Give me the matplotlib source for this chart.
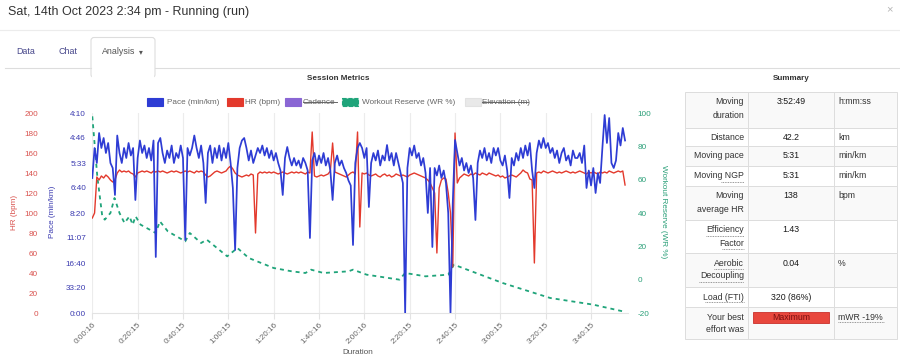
import numpy as np
import matplotlib.pyplot as plt
from matplotlib.patches import Rectangle, FancyBboxPatch

plt.rcParams['font.family'] = ['Liberation Sans', 'DejaVu Sans']
plt.rcParams['axes.unicode_minus'] = False

#-- one sample per minute, speed in m/s (axis is labelled as pace)
speed = [
    2.7, 3.3, 3.0, 3.6, 3.3, 3.5, 3.2, 3.4, 3.0, 2.9,
    2.36, 3.55, 3.2, 3.0, 3.3, 3.1, 3.4, 3.15, 3.3, 2.26,
    3.1, 3.45, 3.2, 3.35, 3.1, 3.3, 3.05, 3.45, 1.12, 3.4,
    3.5, 3.2, 3.0, 3.25, 3.1, 3.35, 3.0, 3.2, 3.1, 3.35,
    3.1, 1.46, 3.3, 3.15, 3.3, 3.55, 3.3, 3.1, 3.35, 3.0,
    2.2, 3.2, 3.35, 3.0, 3.3, 3.1, 3.35, 3.05, 3.3, 3.1,
    3.4, 3.0, 2.5, 1.26, 2.9, 3.3, 3.45, 3.5, 3.3, 3.05,
    3.25, 3.0, 3.15, 3.3, 3.2, 3.35, 3.15, 3.3, 3.1, 3.25,
    3.05, 3.2, 3.0, 2.85, 2.36, 3.1, 3.32, 3.1, 2.95, 3.1,
    2.95, 3.05, 2.9, 3.1, 3.0, 2.85, 1.5, 3.05, 3.2, 2.95,
    3.15, 3.0, 3.2, 2.95, 3.1, 2.85, 2.26, 3.0, 3.15, 2.95,
    3.05, 2.9, 2.8, 2.65, 2.55, 1.36, 3.0, 3.3, 3.4, 3.3,
    3.1, 3.3, 2.12, 3.0, 3.2, 3.05, 3.25, 2.95, 3.15, 3.05,
    3.36, 3.05, 3.2, 2.95, 3.2, 3.0, 2.8, 2.6, 0.0, 2.9,
    3.3, 3.15, 3.35, 3.1, 3.2, 2.95, 3.1, 2.8, 2.0, 2.9,
    1.32, 2.9, 2.75, 2.95, 2.7, 2.85, 2.6, 2.0, 0.0, 2.2,
    3.46, 3.2, 2.95, 3.1, 2.85, 3.0, 2.8, 2.95, 2.7, 1.86,
    3.0, 3.25, 3.1, 3.3, 3.05, 3.2, 3.0, 3.3, 3.15, 3.3,
    3.05, 2.95, 3.15, 2.85, 2.3, 3.1, 2.95, 3.2, 3.05, 3.3,
    3.1, 3.35, 3.15, 3.4, 2.85, 2.5, 3.2, 3.45, 3.3, 3.5,
    3.3, 3.4, 3.2, 3.3, 3.1, 3.25, 3.0, 3.2, 3.3, 3.05,
    3.15, 2.95, 3.25, 3.1, 3.1, 3.2, 3.0, 3.35, 2.5, 2.85,
    2.55, 2.9, 2.4, 2.8, 2.6, 3.3, 3.96, 3.4, 3.9, 3.0,
    2.9, 3.05, 3.6, 3.35, 3.7, 3.45,
]

heart_rate = [
    95, 100, 136, 133, 137, 135, 138, 136, 133, 131,
    133, 140, 143, 141, 142, 141, 142, 140, 139, 136,
    140, 141, 142, 141, 142, 141, 140, 142, 141, 142,
    141, 142, 141, 140, 141, 142, 141, 142, 141, 140,
    141, 142, 141, 142, 141, 140, 142, 141, 142, 141,
    138, 136, 137, 139, 141, 142, 141, 140, 141, 142,
    145, 147, 144, 140, 138, 137, 136, 137, 138, 137,
    139, 138, 80, 139, 141, 140, 141, 140, 141, 140,
    141, 140, 139, 140, 141, 140, 139, 140, 141, 140,
    141, 140, 141, 140, 139, 141, 140, 181, 137, 136,
    137, 138, 137, 138, 139, 142, 170, 141, 140, 139,
    138, 137, 136, 138, 140, 141, 139, 181, 86, 140,
    139, 140, 138, 137, 138, 139, 137, 136, 138, 139,
    137, 138, 136, 137, 139, 138, 137, 138, 137, 136,
    138, 139, 140, 139, 138, 137, 136, 135, 133, 130,
    125, 120, 60, 125, 133, 135, 134, 120, 100, 46,
    180, 130, 135, 137, 139, 138, 137, 139, 138, 140,
    139, 138, 140, 139, 138, 140, 139, 138, 137, 138,
    136, 137, 135, 136, 137, 138, 137, 136, 138, 140,
    143, 141, 140, 134, 133, 50, 140, 141, 140, 142,
    141, 140, 141, 142, 141, 140, 141, 140, 141, 142,
    141, 140, 141, 140, 141, 142, 141, 140, 139, 141,
    140, 141, 140, 139, 141, 140, 141, 140, 142, 141,
    140, 141, 142, 141, 142, 128,
]

#-- workout reserve is only sampled every few minutes
wr_minutes = [0, 2.2, 4.4, 5.5, 8, 9.8, 12, 14.2, 16.4, 17.8,
              19.1, 21.3, 28, 29.8, 33.3, 41, 43, 48, 50.5, 59.5,
              64, 69, 80, 88, 94, 96.5, 102, 113, 115, 121,
              135.5, 138, 147, 157, 159.5, 181, 202, 221, 234]
wr_values = [98, 62, 38, 36, 40, 49, 40, 34, 38, 33,
             38, 33, 28, 35, 29, 23, 28, 22, 24, 14,
             19, 13, 7, 5, 4, 6, 4, 5, 6, 3,
             0, 4, 2, 3, 9, -2, -11, -15, -19]

x_ticks = [16, 1215, 2415, 3615, 4816, 6016, 7216, 8415, 9615, 10815, 12015, 13215]
x_labels = ['0:00:16', '0:20:15', '0:40:15', '1:00:15', '1:20:16', '1:40:16',
            '2:00:16', '2:20:15', '2:40:15', '3:00:15', '3:20:15', '3:40:15']
pace_ticks = [0, 0.5, 1, 1.5, 2, 2.5, 3, 3.5, 4]
pace_labels = ['0:00', '33:20', '16:40', '11:07', '8:20', '6:40', '5:33', '4:46', '4:10']
hr_ticks = [0, 20, 40, 60, 80, 100, 120, 140, 160, 180, 200]
wr_ticks = [-20, 0, 20, 40, 60, 80, 100]

legend_names = ['Pace (min/km)', 'HR (bpm)', 'Cadence', 'Workout Reserve (WR %)', 'Elevation (m)']

summary_labels = ['Moving\nduration', 'Distance', 'Moving pace', 'Moving NGP', 'Moving\naverage HR',
                  'Efficiency\nFactor', 'Aerobic\nDecoupling', 'Load (FTI)', 'Your best\neffort was']
summary_values = ['3:52:49', '42.2', '5:31', '5:31', '138', '1.43', '0.04', '320 (86%)', 'Maximum']
summary_units = ['h:mm:ss', 'km', 'min/km', 'min/km', 'bpm', '', '%', '', 'mWR -19%']

BLUE = '#2e3cd4'
RED = '#e3392c'
GREEN = '#1fa47a'
PURPLE = '#8a66d4'
TXT = '#333333'

fig = plt.figure(figsize=(9, 3.54), dpi=100)

#-- overlay in pixel coordinates for the page around the chart
ov = fig.add_axes([0, 0, 1, 1])
ov.set_xlim(0, 900)
ov.set_ylim(354, 0)
ov.axis('off')

ov.text(8, 12, 'Sat, 14th Oct 2023 2:34 pm - Running (run)', fontsize=9.0, color=TXT, va='center')
ov.text(889, 9, '\u00d7', fontsize=8, color='#b5b5b5', ha='center', va='center')
ov.plot([0, 900], [30, 30], color='#ececec', lw=0.8)

#-- tabs
ov.plot([5, 91], [68, 68], color='#dddddd', lw=0.8)
ov.plot([155, 900], [68, 68], color='#dddddd', lw=0.8)
ov.add_patch(FancyBboxPatch((91, 37.5), 64, 40, boxstyle='round,pad=0,rounding_size=3',
                            fc='white', ec='#dddddd', lw=0.8))
ov.add_patch(Rectangle((91.6, 67), 62.8, 12, fc='white', ec='none'))
ov.text(26, 52, 'Data', fontsize=6.4, color='#45458a', ha='center', va='center')
ov.text(68, 52, 'Chat', fontsize=6.4, color='#45458a', ha='center', va='center')
ov.text(102, 52, 'Analysis', fontsize=6.4, color='#555555', va='center')
ov.text(141, 52, '\u25be', fontsize=5.5, color='#555555', ha='center', va='center',
        family=['DejaVu Sans'])

ov.text(338, 78, 'Session Metrics', fontsize=5.9, weight='bold', color=TXT, ha='center', va='center')

#-- legend
leg_boxes = [(147, BLUE, BLUE), (227, RED, RED), (285, PURPLE, PURPLE), (342, GREEN, GREEN), (465, '#e9e9e9', '#e2e2e2')]
leg_text_x = [167, 245, 303, 362, 482]
for (bx, fc, ec), tx, name in zip(leg_boxes, leg_text_x, legend_names):
    ls = '--' if name.startswith('Workout') else '-'
    ov.add_patch(Rectangle((bx, 97.5), 16, 8.5, fc=fc, ec=ec, lw=0.8, ls=ls))
    ov.text(tx, 102, name, fontsize=5.9, color='#666666', va='center')
    if name in ('Cadence', 'Elevation (m)'):
        w = 34 if name == 'Cadence' else 46
        ov.plot([tx, tx + w], [102, 102], color='#666666', lw=0.7)

#-- chart with three y axes
L, R, T, B = 92.3, 628, 113, 313
ax_wr = fig.add_axes([L / 900, 1 - B / 354, (R - L) / 900, (B - T) / 354])
ax_hr = ax_wr.twinx()
ax_pace = ax_wr.twinx()

t_sec = 16 + 60 * np.arange(len(speed))
wr_sec = 16 + 60 * np.array(wr_minutes)

ax_wr.plot(wr_sec, wr_values, color=GREEN, lw=1.3, ls=(0, (2.2, 2.2)))
ax_hr.plot(t_sec, heart_rate, color=RED, lw=1.0)
ax_pace.plot(t_sec, speed, color=BLUE, lw=1.25)

xmax = 16 + 60 * 236.3
for a in (ax_wr, ax_hr, ax_pace):
    a.set_xlim(16, xmax)
    for s in a.spines.values():
        s.set_visible(False)

ax_wr.set_ylim(-20, 100)
ax_hr.set_ylim(0, 200)
ax_pace.set_ylim(0, 4)

ax_wr.spines['bottom'].set_visible(True)
ax_wr.spines['bottom'].set_color('#e3e3e3')
ax_wr.set_xticks(x_ticks, x_labels, rotation=45, ha='right', rotation_mode='anchor')
ax_wr.tick_params(axis='x', length=4, color='#e3e3e3', pad=2, labelsize=5.9, labelcolor='#666666')
ax_wr.grid(axis='x', color='#ececec', lw=0.8)

ax_wr.yaxis.tick_right()
ax_wr.set_yticks(wr_ticks)
ax_wr.tick_params(axis='y', length=0, pad=7, labelsize=5.9, labelcolor='#2a9f78')

ax_hr.yaxis.tick_left()
ax_hr.set_yticks(hr_ticks)
ax_hr.tick_params(axis='y', length=0, pad=39, labelsize=5.9, labelcolor='#d9534f')

ax_pace.yaxis.tick_left()
ax_pace.set_yticks(pace_ticks, pace_labels)
ax_pace.tick_params(axis='y', length=0, pad=4.5, labelsize=5.9, labelcolor='#3b3bb0')

ov.text(14, 212, 'HR (bpm)', fontsize=5.9, color='#d9534f', rotation=90, ha='center', va='center')
ov.text(53, 212, 'Pace (min/km)', fontsize=5.9, color='#3b3bb0', rotation=90, ha='center', va='center')
ov.text(663, 212, 'Workout Reserve (WR %)', fontsize=5.9, color='#2a9f78', rotation=270, ha='center', va='center')
ov.text(358, 352, 'Duration', fontsize=5.9, color='#555555', ha='center', va='center')

#-- summary table
ov.text(791, 79, 'Summary', fontsize=5.9, weight='bold', color=TXT, ha='center', va='center')
rows = [92, 128, 146, 166, 186, 220, 253, 287, 307, 339]
cols = [685, 748, 834, 897]
for i in range(len(summary_labels)):
    y0, y1 = rows[i], rows[i + 1]
    fc = '#f9f9f9' if i % 2 == 0 else 'white'
    ov.add_patch(Rectangle((cols[0], y0), cols[3] - cols[0], y1 - y0, fc=fc, ec='#dddddd', lw=0.7))
    two = '\n' in summary_labels[i]
    ty = y0 + 10 if two else (y0 + y1) / 2
    for j, line in enumerate(summary_labels[i].split('\n')):
        ov.text(744, ty + 13 * j, line, fontsize=6.3, color=TXT, ha='right', va='center')
    if summary_values[i] == 'Maximum':
        ov.add_patch(Rectangle((753, 311.5), 76, 11, fc='#e8473d', ec='#c9302c', lw=0.6))
        ov.text(791, 317, summary_values[i], fontsize=6.3, color='#7a1010', ha='center', va='center')
    else:
        ov.text(791, ty, summary_values[i], fontsize=6.3, color='#1a1a1a', ha='center', va='center')
    ov.text(838, ty, summary_units[i], fontsize=6.3, color=TXT, va='center')
for c in cols[1:3]:
    ov.plot([c, c], [rows[0], rows[-1]], color='#dddddd', lw=0.7)

#-- dotted underlines for the hover terms
underlines = [(721, 744, 182), (706, 744, 236), (722, 744, 249), (714, 744, 269),
              (699, 744, 282), (705, 744, 302), (838, 884, 322)]
for x0, x1, y in underlines:
    ov.plot([x0, x1], [y, y], color='#777777', lw=0.6, ls=(0, (1, 1)))

fig.savefig('out.png', dpi=100)
